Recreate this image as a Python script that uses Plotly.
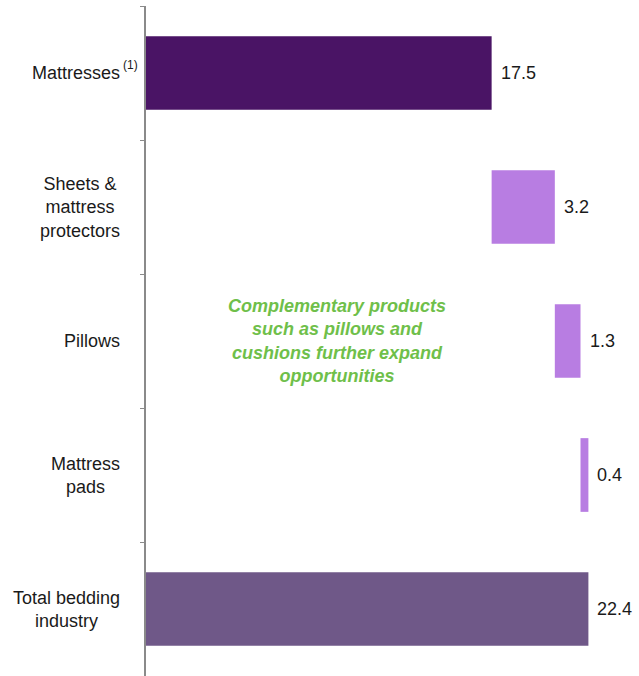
import numpy as np
import plotly.graph_objects as go

categories = ["Mattresses", "Sheets &<br>mattress<br>protectors", "Pillows", "Mattress<br>pads", "Total bedding<br>industry"]
values = [17.5, 3.2, 1.3, 0.4, 22.4]
kinds = ["absolute", "relative", "relative", "relative", "total"]
value_labels = ["17.5", "3.2", "1.3", "0.4", "22.4"]
note_text = "Complementary products<br>such as pillows and<br>cushions further expand<br>opportunities"
footnote_mark = "(1)"

colors = {"absolute": "#4a1465", "relative": "#b87de2", "total": "#6f5888"}
FONT = "Arial, Liberation Sans, sans-serif"

# compute waterfall bases
bases = []
running = 0.0
for v, k in zip(values, kinds):
    if k == "relative":
        bases.append(running)
        running += v
    else:
        bases.append(0.0)
        running = v if k == "absolute" else running
ends = [b + v for b, v in zip(bases, values)]

fig = go.Figure()
fig.add_trace(go.Bar(
    y=categories, x=values, base=bases, orientation="h",
    marker=dict(color=[colors[k] for k in kinds], line=dict(width=0)),
    width=0.55, hoverinfo="skip",
))

annotations = []
for cat, e, lab in zip(categories, ends, value_labels):
    annotations.append(dict(x=e, y=cat, xref="x", yref="y", text=lab, showarrow=False,
                            xanchor="left", xshift=7, font=dict(size=18, color="#1a1a1a", family=FONT)))
for cat in categories:
    annotations.append(dict(x=0, y=cat, xref="paper", yref="y", text=cat, showarrow=False,
                            xanchor="right", xshift=-24, align="center",
                            font=dict(size=18, color="#1a1a1a", family=FONT)))
annotations.append(dict(x=0, y=categories[0], xref="paper", yref="y", text=footnote_mark, showarrow=False,
                        xanchor="right", xshift=-6, yshift=8,
                        font=dict(size=12, color="#1a1a1a", family=FONT)))
annotations.append(dict(x=9.65, y=categories[2], xref="x", yref="y", text="<b><i>" + note_text + "</i></b>",
                        showarrow=False, align="center",
                        font=dict(size=18, color="#6fbf4a", family=FONT)))

fig.update_layout(
    width=639, height=676,
    margin=dict(l=146, r=19, t=6, b=0, autoexpand=False),
    paper_bgcolor="white", plot_bgcolor="white",
    showlegend=False,
    bargap=0.45,
    xaxis=dict(range=[0, 24], visible=False, showgrid=False, zeroline=False, automargin=False),
    yaxis=dict(autorange="reversed", showticklabels=False, showgrid=False, zeroline=False,
               automargin=False,
               showline=True, linecolor="#8a8a8a", linewidth=2,
               ticks="outside", ticklen=4, tickcolor="#8a8a8a", tickwidth=1, tickson="boundaries"),
    annotations=annotations,
)

fig.write_html("out.html", config={"displayModeBar": False},
               post_script="document.body.style.margin='0';")
